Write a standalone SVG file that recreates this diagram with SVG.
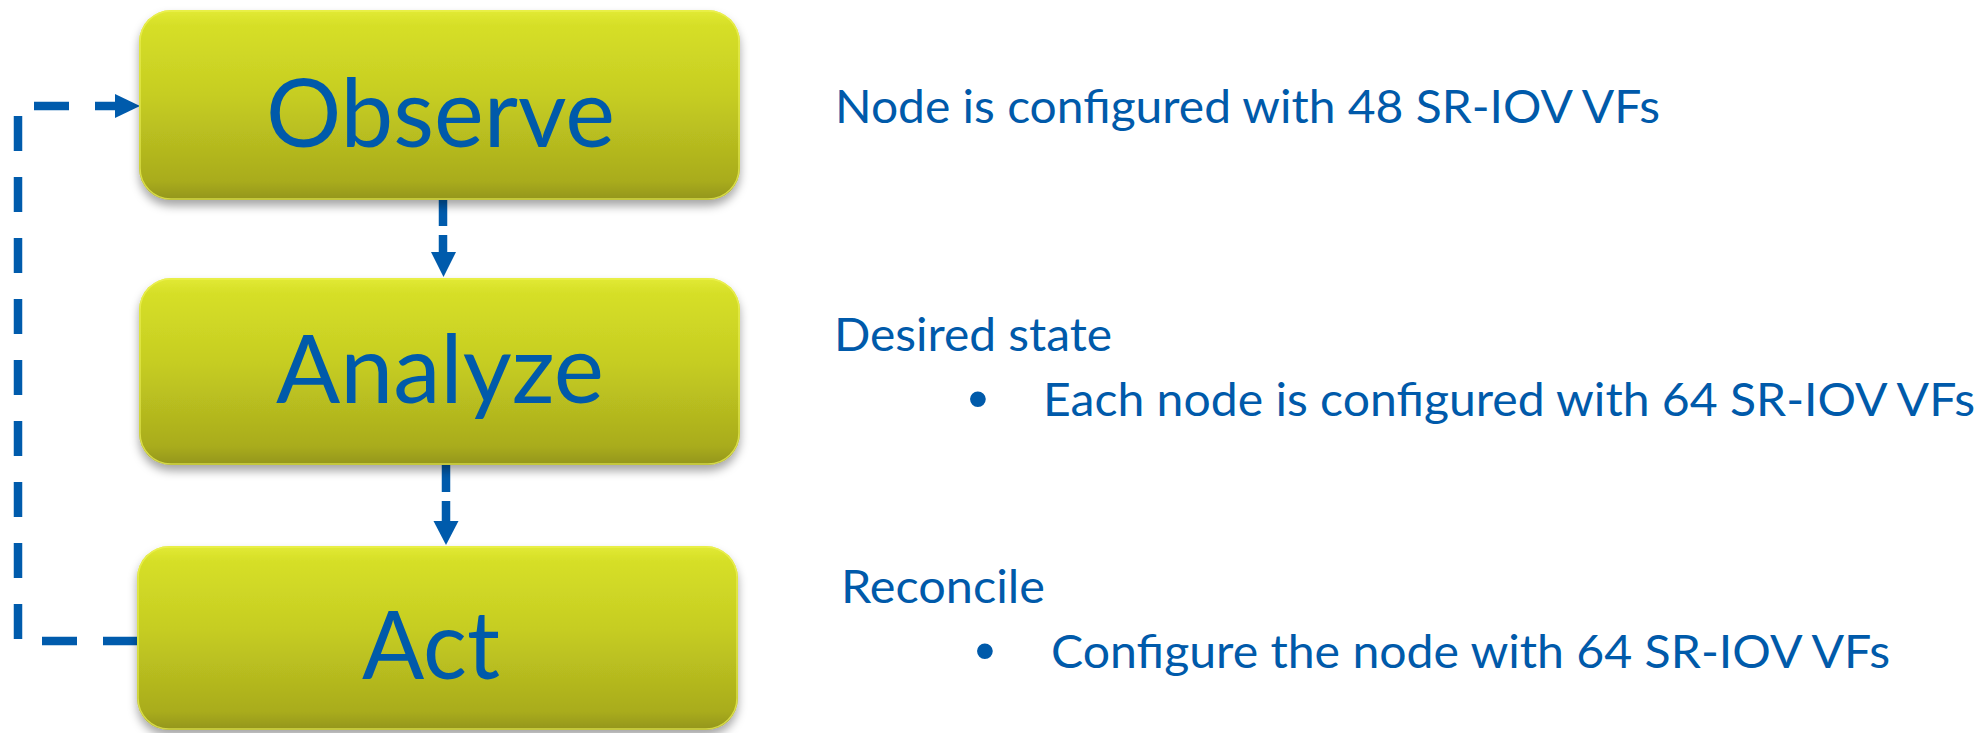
<svg xmlns="http://www.w3.org/2000/svg" width="1983" height="733" viewBox="0 0 1983 733">
<defs>
<linearGradient id="boxFill" x1="0" y1="0" x2="0" y2="1">
<stop offset="0" stop-color="#e2ea34"/>
<stop offset="0.08" stop-color="#d6df28"/>
<stop offset="0.45" stop-color="#c6cd22"/>
<stop offset="0.9" stop-color="#a9ac1d"/>
<stop offset="1" stop-color="#93951a"/>
</linearGradient>
<filter id="shadow" x="-5%" y="-10%" width="110%" height="130%">
<feDropShadow dx="0" dy="6" stdDeviation="5" flood-color="#000" flood-opacity="0.35"/>
</filter>
</defs>
<style>
.box{fill:url(#boxFill);filter:url(#shadow);}
.rim{fill:none;stroke:#eef25a;stroke-width:1.5;stroke-opacity:0.7;}
.lbl{font-family:Lato,"Liberation Sans",sans-serif;font-size:95px;fill:#005aaa;}
.note{font-family:Lato,"Liberation Sans",sans-serif;font-size:46px;fill:#005aaa;}
.bul{font-family:"Liberation Sans",sans-serif;font-size:58px;fill:#005aaa;}
.conn{fill:none;stroke:#005bac;stroke-width:8.5;}
.head{fill:#005bac;}
</style>

<g id="connectors">
<path class="conn" d="M443,200 V252" stroke-dasharray="26 9 40"/>
<path class="head" d="M431,252 L456,252 L443.5,277 Z"/>
<path class="conn" d="M446,465 V522" stroke-dasharray="27 9 40"/>
<path class="head" d="M433.5,521 L458.5,521 L446,545 Z"/>
<path class="conn" d="M138,641 H18 V106 H115" stroke-dasharray="35 26"/>
<path class="head" d="M115,94 L140,106 L115,118 Z"/>
</g>

<g id="node-observe">
<rect class="box" x="139" y="10" width="601" height="190" rx="32" ry="32"/>
<rect class="rim" x="140" y="11" width="599" height="188" rx="31" ry="31"/>
<text class="lbl" x="266" y="147" textLength="349" lengthAdjust="spacingAndGlyphs">Observe</text>
</g>

<g id="node-analyze">
<rect class="box" x="139" y="278" width="601" height="187" rx="32" ry="32"/>
<rect class="rim" x="140" y="279" width="599" height="185" rx="31" ry="31"/>
<text class="lbl" x="276" y="403" textLength="328" lengthAdjust="spacingAndGlyphs">Analyze</text>
</g>

<g id="node-act">
<rect class="box" x="137" y="546" width="601" height="184" rx="32" ry="32"/>
<rect class="rim" x="138" y="547" width="599" height="182" rx="31" ry="31"/>
<text class="lbl" x="362" y="679" textLength="138" lengthAdjust="spacingAndGlyphs">Act</text>
</g>

<g id="notes">
<text class="note" x="835" y="123" textLength="825" lengthAdjust="spacingAndGlyphs">Node is configured with 48 SR-IOV VFs</text>
<text class="note" x="834" y="351" textLength="278" lengthAdjust="spacingAndGlyphs">Desired state</text>
<text class="bul" x="978" y="418" text-anchor="middle">•</text>
<text class="note" x="1043" y="416" textLength="932" lengthAdjust="spacingAndGlyphs">Each node is configured with 64 SR-IOV VFs</text>
<text class="note" x="841" y="603" textLength="204" lengthAdjust="spacingAndGlyphs">Reconcile</text>
<text class="bul" x="985" y="670" text-anchor="middle">•</text>
<text class="note" x="1051" y="668" textLength="839" lengthAdjust="spacingAndGlyphs">Configure the node with 64 SR-IOV VFs</text>
</g>
</svg>
